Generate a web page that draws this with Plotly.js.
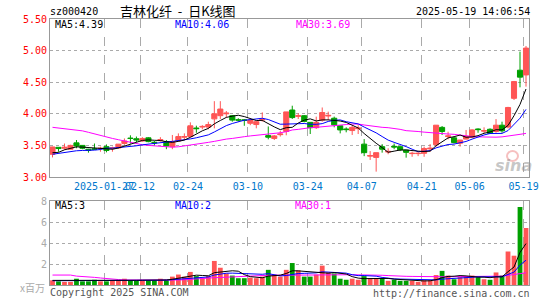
<!DOCTYPE html>
<html><head><meta charset="utf-8">
<script src="https://cdn.plot.ly/plotly-3.0.1.min.js"></script>
<style>html,body{margin:0;padding:0;background:#fff;}#chart{width:545px;height:300px;}</style>
</head><body><div id="chart"></div>
<script>
const dates = [
 '2025-01-14','2025-01-15','2025-01-16','2025-01-17','2025-01-20','2025-01-21','2025-01-22','2025-01-23','2025-01-24','2025-01-27',
 '2025-02-05','2025-02-06','2025-02-07','2025-02-10','2025-02-11','2025-02-12','2025-02-13','2025-02-14','2025-02-17','2025-02-18',
 '2025-02-19','2025-02-20','2025-02-21','2025-02-24','2025-02-25','2025-02-26','2025-02-27','2025-02-28','2025-03-03','2025-03-04',
 '2025-03-05','2025-03-06','2025-03-07','2025-03-10','2025-03-11','2025-03-12','2025-03-13','2025-03-14','2025-03-17','2025-03-18',
 '2025-03-19','2025-03-20','2025-03-21','2025-03-24','2025-03-25','2025-03-26','2025-03-27','2025-03-28','2025-03-31','2025-04-01',
 '2025-04-02','2025-04-03','2025-04-07','2025-04-08','2025-04-09','2025-04-10','2025-04-11','2025-04-14','2025-04-15','2025-04-16',
 '2025-04-17','2025-04-18','2025-04-21','2025-04-22','2025-04-23','2025-04-24','2025-04-25','2025-04-28','2025-04-29','2025-04-30',
 '2025-05-06','2025-05-07','2025-05-08','2025-05-09','2025-05-12','2025-05-13','2025-05-14','2025-05-15','2025-05-16','2025-05-19'];

const open = [3.36,3.47,3.455,3.44,3.54,3.50,3.44,3.445,3.45,3.48,
 3.45,3.46,3.53,3.615,3.605,3.57,3.62,3.55,3.575,3.56,
 3.48,3.57,3.63,3.64,3.775,3.79,3.79,3.92,3.97,4.00,
 3.97,3.905,3.905,3.85,3.83,3.90,3.655,3.61,3.67,3.72,
 4.06,3.96,3.97,3.865,3.78,3.90,3.965,3.93,3.81,3.76,
 3.735,3.765,3.52,3.33,3.31,3.48,3.395,3.485,3.48,3.425,
 3.37,3.37,3.375,3.445,3.51,3.785,3.64,3.62,3.535,3.60,
 3.63,3.76,3.725,3.755,3.72,3.82,3.79,4.245,4.69,4.615];
const high = [3.48,3.47,3.53,3.51,3.585,3.50,3.445,3.53,3.48,3.515,
 3.48,3.52,3.61,3.66,3.64,3.63,3.63,3.57,3.63,3.585,
 3.665,3.69,3.69,3.865,3.812,3.82,3.875,4.20,4.20,4.044,
 3.98,3.93,3.918,3.918,3.886,4.023,3.80,3.665,3.728,4.03,
 4.128,4.007,3.98,3.865,3.955,4.10,4.034,3.955,3.81,3.786,
 3.81,3.82,3.60,3.41,3.385,3.52,3.454,3.53,3.48,3.425,
 3.40,3.39,3.48,3.52,3.82,3.807,3.717,3.638,3.585,3.744,
 3.755,3.77,3.786,3.77,3.917,3.875,4.11,4.52,4.983,5.073];
const low = [3.31,3.40,3.43,3.44,3.455,3.44,3.385,3.43,3.40,3.39,
 3.40,3.45,3.51,3.53,3.55,3.56,3.55,3.50,3.56,3.44,
 3.44,3.56,3.585,3.627,3.70,3.755,3.755,3.77,3.918,3.94,
 3.875,3.875,3.81,3.82,3.77,3.875,3.596,3.585,3.64,3.66,
 3.918,3.918,3.865,3.68,3.76,3.875,3.90,3.786,3.69,3.707,
 3.665,3.68,3.33,3.27,3.085,3.385,3.36,3.44,3.41,3.306,
 3.32,3.33,3.32,3.40,3.48,3.665,3.596,3.532,3.48,3.596,
 3.62,3.70,3.69,3.68,3.70,3.70,3.77,4.218,4.419,4.43];
const close = [3.475,3.45,3.47,3.50,3.49,3.455,3.42,3.44,3.455,3.42,
 3.46,3.52,3.57,3.61,3.585,3.61,3.56,3.54,3.59,3.49,
 3.56,3.64,3.64,3.81,3.765,3.80,3.83,4.00,4.075,4.01,
 3.90,3.90,3.895,3.90,3.875,3.91,3.63,3.65,3.68,4.03,
 3.94,3.97,3.88,3.78,3.865,4.02,3.975,3.825,3.745,3.75,
 3.785,3.775,3.385,3.34,3.385,3.44,3.405,3.475,3.43,3.39,
 3.375,3.375,3.45,3.455,3.82,3.72,3.65,3.545,3.585,3.645,
 3.745,3.75,3.735,3.69,3.82,3.73,4.10,4.51,4.58,5.04];
// volume, millions of shares
const volume = [0.45,0.35,0.3,0.3,0.6,0.35,0.35,0.5,0.35,0.35,
 0.4,0.45,0.6,0.4,0.4,0.45,0.45,0.45,0.6,0.45,
 0.8,1.0,0.8,1.25,0.85,0.65,0.85,2.3,1.65,1.1,
 0.9,0.65,0.65,0.7,0.65,0.8,1.45,1.0,0.8,1.45,
 2.1,1.4,0.8,0.8,1.0,1.85,1.2,1.1,0.6,0.5,
 0.6,0.5,0.85,0.6,0.65,0.65,0.4,0.5,0.4,0.4,
 0.4,0.3,0.45,0.45,0.95,1.35,0.9,0.55,0.75,0.8,
 0.9,0.75,0.55,0.5,1.2,0.9,3.2,2.8,7.45,5.45];

const ma5Head = [3.385,3.39,3.43,3.455];
const ma10Head = [3.36,3.375,3.39,3.405,3.415,3.42,3.42,3.425,3.435];
const ma30 = [3.786,3.775,3.77,3.754,3.74,3.73,3.707,3.68,3.654,3.628,
 3.61,3.59,3.57,3.55,3.525,3.51,3.50,3.49,3.485,3.48,
 3.472,3.478,3.49,3.505,3.52,3.533,3.548,3.564,3.585,3.60,
 3.61,3.628,3.638,3.65,3.66,3.665,3.675,3.69,3.70,3.717,
 3.744,3.754,3.77,3.78,3.786,3.797,3.807,3.812,3.823,3.83,
 3.838,3.838,3.823,3.807,3.797,3.786,3.78,3.77,3.754,3.733,
 3.73,3.72,3.71,3.70,3.69,3.685,3.68,3.675,3.66,3.65,
 3.64,3.635,3.63,3.63,3.63,3.635,3.645,3.66,3.675,3.69];
const vma5Head = [0.44,0.44,0.42,0.42];
const vma10Head = [0.41,0.41,0.41,0.41,0.41,0.41,0.41,0.41,0.41];
const vma30 = [0.95,0.95,0.95,0.95,0.85,0.83,0.8,0.73,0.67,0.6,
 0.57,0.52,0.48,0.48,0.46,0.43,0.41,0.41,0.41,0.43,
 0.46,0.48,0.5,0.55,0.58,0.6,0.63,0.7,0.72,0.75,
 0.8,0.83,0.85,0.88,0.9,0.92,0.93,0.93,0.94,0.95,
 0.96,0.97,0.97,0.97,0.98,0.98,0.98,0.98,0.98,0.98,
 0.98,0.98,0.97,0.96,0.95,0.93,0.9,0.86,0.84,0.83,
 0.82,0.8,0.8,0.79,0.79,0.79,0.79,0.8,0.8,0.8,
 0.8,0.8,0.82,0.82,0.83,0.85,0.92,0.98,1.08,1.17];

const tickDates = ['2025-01-27','2025-02-12','2025-02-24','2025-03-10','2025-03-24','2025-04-07','2025-04-21','2025-05-06','2025-05-19'];
const tickText = ['2025-01-27','02-12','02-24','03-10','03-24','04-07','04-21','05-06','05-19'];
const priceTicks = [3.0,3.5,4.0,4.5,5.0,5.5];
const priceTickText = ['3.00','3.50','4.00','4.50','5.00','5.50'];
const volTicks = [2,4,6,8];
const volTickText = ['2','4','6','8'];
const maLabels = ['MA5:4.39','MA10:4.06','MA30:3.69'];
const volMaLabels = ['MA5:3','MA10:2','MA30:1'];

function ma(arr, n, head){
  return arr.map((v,i)=>{
    if(i < n-1) return head[i];
    let s=0; for(let k=i-n+1;k<=i;k++) s+=arr[k]; return s/n;
  });
}
const idx = dates.map((d,i)=>i);
const ma5 = ma(close,5,ma5Head), ma10 = ma(close,10,ma10Head);
const vma5 = ma(volume,5,vma5Head), vma10 = ma(volume,10,vma10Head);

const UP='#FF5555', DOWN='#00A000';
const C5='#000000', C10='#0000FF', C30='#FF00FF';
const MONO='DejaVu Sans Mono';
const tickPos = tickDates.map(d=>dates.indexOf(d)-0.4);
const volColors = idx.map(i=> close[i]>=open[i]?UP:DOWN);

const L=50, R=529, T=19, B=285;
function px(x){return (x-L)/(R-L);}
function py(y){return (B-y)/(B-T);}

const traces = [
 {type:'candlestick', x:idx, open:open, high:high, low:low, close:close, xaxis:'x', yaxis:'y',
  increasing:{line:{color:UP,width:1}, fillcolor:UP}, decreasing:{line:{color:DOWN,width:1}, fillcolor:DOWN},
  whiskerwidth:0, hoverinfo:'skip'},
 {type:'scatter', mode:'lines', x:idx, y:ma30, line:{color:C30,width:1}, xaxis:'x', yaxis:'y', hoverinfo:'skip'},
 {type:'scatter', mode:'lines', x:idx, y:ma10, line:{color:C10,width:1}, xaxis:'x', yaxis:'y', hoverinfo:'skip'},
 {type:'scatter', mode:'lines', x:idx, y:ma5, line:{color:C5,width:1}, xaxis:'x', yaxis:'y', hoverinfo:'skip'},
 {type:'bar', x:idx, y:volume, width:0.8, marker:{color:volColors, line:{width:0}}, xaxis:'x2', yaxis:'y2', hoverinfo:'skip'},
 {type:'scatter', mode:'lines', x:idx, y:vma30, line:{color:C30,width:1}, xaxis:'x2', yaxis:'y2', hoverinfo:'skip'},
 {type:'scatter', mode:'lines', x:idx, y:vma10, line:{color:C10,width:1}, xaxis:'x2', yaxis:'y2', hoverinfo:'skip'},
 {type:'scatter', mode:'lines', x:idx, y:vma5, line:{color:C5,width:1}, xaxis:'x2', yaxis:'y2', hoverinfo:'skip'}
];

const xr = [-0.417, 79.5];
const gridC = '#aaaaaa', frameC = '#999999';
function ann(text,x,y,anchor,color,size,family,extra){
  return Object.assign({text:text, xref:'paper', yref:'paper', x:px(x), y:py(y), xanchor:anchor, yanchor:'middle',
    showarrow:false, font:{family:family||MONO, size:size||10, color:color}, borderpad:0}, extra||{});
}
const annotations = [
 ann('sz000420',49,12,'left','#000'),
 ann('吉林化纤 &nbsp;- &nbsp;日K线图',178,10.5,'center','#000',13,'Noto Sans CJK SC'),
 ann('2025-05-19 14:06:54',531,12,'right','#000'),
 ann(maLabels[0],54,24.5,'left',C5),
 ann(maLabels[1],174,24.5,'left',C10),
 ann(maLabels[2],295,24.5,'left',C30),
 ann(volMaLabels[0],54,206,'left',C5),
 ann(volMaLabels[1],174,206,'left',C10),
 ann(volMaLabels[2],294,206,'left',C30),
 ann('x百万',46,287,'right','#aaaaaa',10,'Noto Sans CJK SC'),
 ann('Copyright 2025 SINA.COM',49,292.5,'left','#555555'),
 ann('http://finance.sina.com.cn',531,293,'right','#555555'),
 ann('<b><i>sina</i></b>',513,166,'center','rgba(150,150,150,0.55)',16,'DejaVu Sans')
];

const layout = {
 width:545, height:300, margin:{l:L, r:545-R, t:T, b:300-B, pad:0},
 paper_bgcolor:'#fff', plot_bgcolor:'#fff', showlegend:false, boxgap:0.15, boxgroupgap:0, bargap:0.2,
 xaxis:{domain:[0,1], anchor:'y', range:xr, tickvals:tickPos, ticktext:tickText, tickangle:0,
   tickfont:{family:MONO,size:10,color:'#0077CC'}, showgrid:true, gridcolor:gridC, griddash:'dash', gridwidth:1,
   showline:true, linecolor:frameC, linewidth:1, mirror:true, ticks:'', zeroline:false, rangeslider:{visible:false}, fixedrange:true},
 yaxis:{domain:[(B-177)/(B-T),1], anchor:'x', range:[3,5.5], tickvals:priceTicks, ticktext:priceTickText,
   tickfont:{family:MONO,size:10,color:'#FF0000'}, showgrid:true, gridcolor:gridC, griddash:'dot', gridwidth:1,
   showline:true, linecolor:frameC, linewidth:1, mirror:true, ticks:'', zeroline:false, fixedrange:true},
 xaxis2:{domain:[0,1], anchor:'y2', range:xr, tickvals:tickPos, showticklabels:false, showgrid:true, gridcolor:gridC, griddash:'dash', gridwidth:1,
   showline:true, linecolor:frameC, linewidth:1, mirror:true, ticks:'', zeroline:false, fixedrange:true},
 yaxis2:{domain:[0,(B-201.3)/(B-T)], anchor:'x2', range:[0,8], tickvals:volTicks, ticktext:volTickText,
   tickfont:{family:MONO,size:10,color:'#aaaaaa'}, showgrid:true, gridcolor:gridC, griddash:'dot', gridwidth:1,
   showline:true, linecolor:frameC, linewidth:1, mirror:true, ticks:'', zeroline:false, fixedrange:true},
 annotations:annotations,
 shapes:[{type:'circle', xref:'paper', yref:'paper', x0:px(507), x1:px(518), y0:py(161), y1:py(151), line:{color:'rgba(240,150,150,0.6)',width:2}}]
};
Plotly.newPlot('chart', traces, layout, {staticPlot:true, displayModeBar:false});
</script></body></html>
